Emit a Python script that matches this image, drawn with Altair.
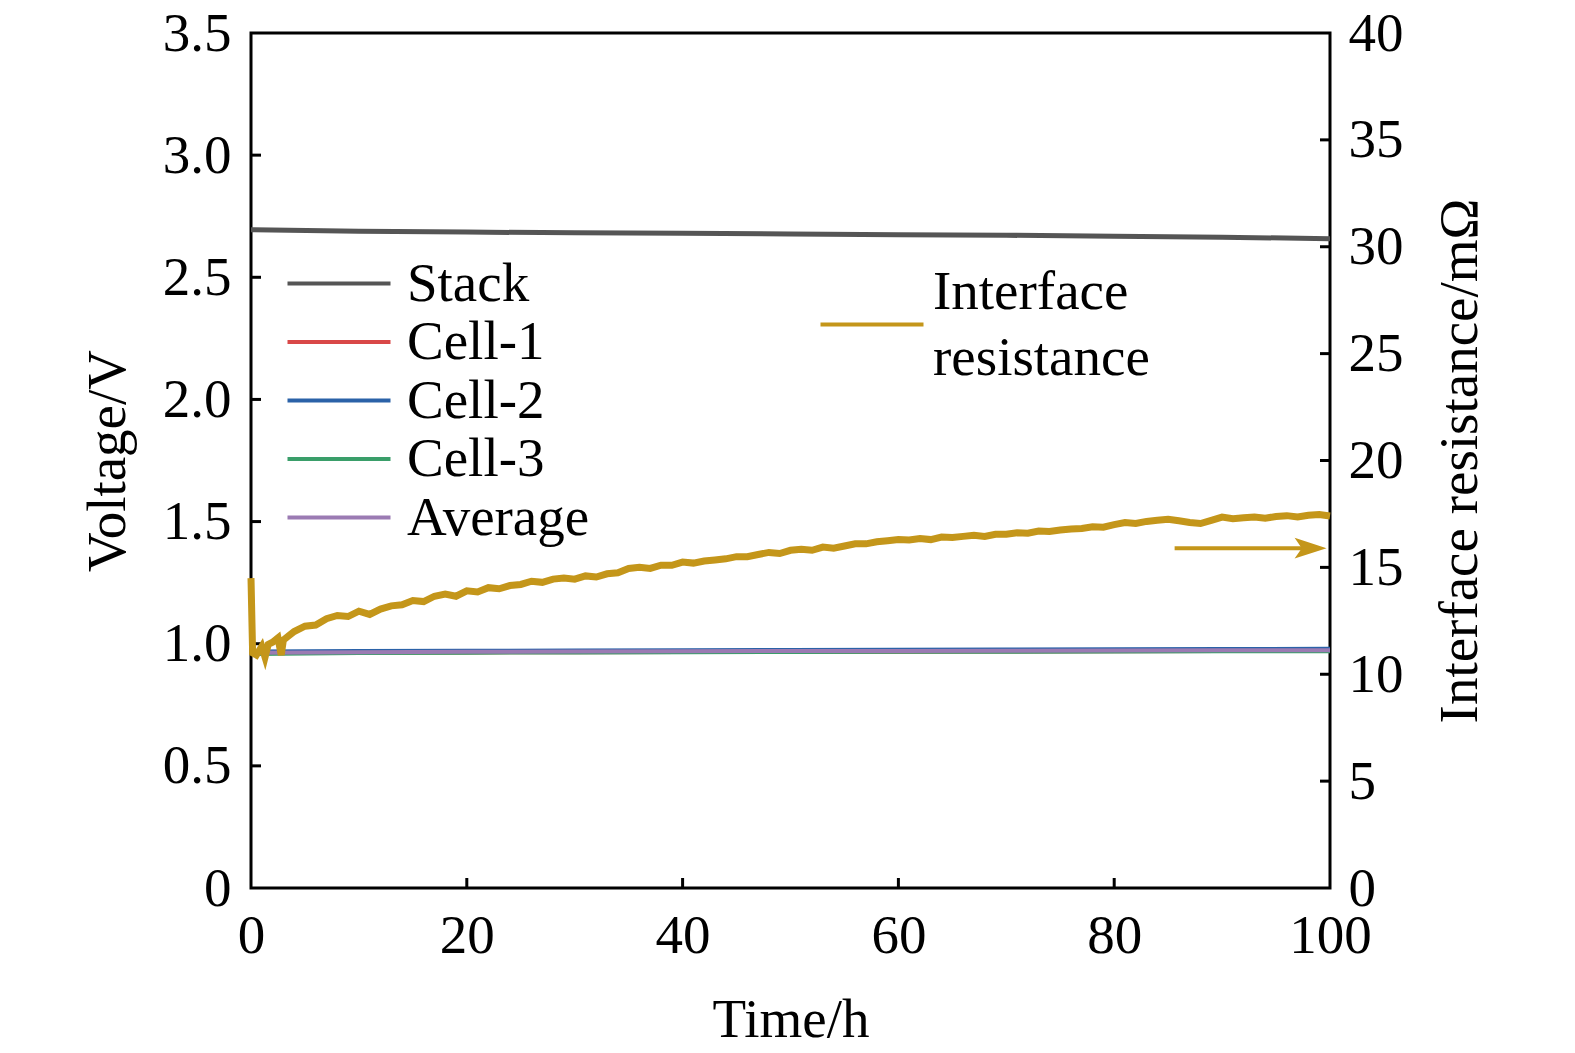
import altair as alt
import pandas as pd

# ---------------- data ----------------
time_v = [0, 10, 20, 30, 40, 50, 60, 70, 80, 90, 100]
stack = [2.695, 2.688, 2.685, 2.682, 2.680, 2.677, 2.674, 2.672, 2.668, 2.664, 2.658]
cell1 = [0.963, 0.965, 0.966, 0.967, 0.968, 0.969, 0.969, 0.970, 0.971, 0.972, 0.972]
cell2 = [0.967, 0.969, 0.970, 0.971, 0.972, 0.973, 0.974, 0.975, 0.976, 0.977, 0.978]
cell3 = [0.958, 0.962, 0.964, 0.965, 0.966, 0.967, 0.968, 0.968, 0.969, 0.970, 0.970]
average = [0.963, 0.965, 0.967, 0.968, 0.969, 0.970, 0.970, 0.971, 0.972, 0.973, 0.973]

series_names = ["Stack", "Cell-1", "Cell-2", "Cell-3", "Average"]
series_colors = ["#555555", "#d94848", "#2b62a8", "#3a9e6a", "#9b7bb3"]
series_widths = [5, 4, 4, 4, 6]

res_time = [0, 0.15, 0.5, 1, 1.3, 1.6, 2, 2.5, 2.8, 3, 3.5, 4, 5, 6, 7, 8, 9, 10,
            11, 12, 13, 14, 15, 16, 17, 18, 19, 20, 21, 22, 23, 24, 25, 26, 27, 28,
            29, 30, 31, 32, 33, 34, 35, 36, 37, 38, 39, 40, 41, 42, 43, 44, 45, 46,
            47, 48, 49, 50, 51, 52, 53, 54, 55, 56, 57, 58, 59, 60, 61, 62, 63, 64,
            65, 66, 67, 68, 69, 70, 71, 72, 73, 74, 75, 76, 77, 78, 79, 80, 81, 82,
            83, 84, 85, 86, 87, 88, 89, 90, 91, 92, 93, 94, 95, 96, 97, 98, 99, 100]
res_val = [14.5, 11.0, 10.9, 11.3, 10.8, 11.4, 11.5, 11.7, 10.9, 11.6, 11.8, 12.0, 12.25, 12.3, 12.6, 12.75, 12.7, 12.95,
           12.8, 13.05, 13.2, 13.25, 13.45, 13.4, 13.65, 13.75, 13.65, 13.9, 13.85, 14.05, 14.0, 14.15, 14.2, 14.35, 14.3, 14.45,
           14.5, 14.45, 14.6, 14.55, 14.7, 14.75, 14.95, 15.0, 14.95, 15.1, 15.1, 15.25, 15.2, 15.3, 15.35, 15.4, 15.5, 15.5,
           15.6, 15.7, 15.65, 15.8, 15.85, 15.8, 15.95, 15.9, 16.0, 16.1, 16.1, 16.2, 16.25, 16.3, 16.28, 16.35, 16.3, 16.42,
           16.4, 16.45, 16.5, 16.45, 16.55, 16.55, 16.62, 16.6, 16.7, 16.68, 16.75, 16.8, 16.82, 16.9, 16.88, 17.0, 17.1, 17.05,
           17.15, 17.2, 17.25, 17.18, 17.1, 17.05, 17.2, 17.35, 17.28, 17.32, 17.36, 17.3, 17.38, 17.42, 17.36, 17.44, 17.47, 17.4]
res_label = "Interface resistance"
res_color = "#c4961a"

arrow_start = 85.6
arrow_end = 97.5
arrow_head = 98.2
arrow_level = 15.9

x_ticks = [0, 20, 40, 60, 80, 100]
v_ticks = [0, 0.5, 1.0, 1.5, 2.0, 2.5, 3.0, 3.5]
r_ticks = [0, 5, 10, 15, 20, 25, 30, 35, 40]

# ---------------- tables ----------------
rows = []
for name, vals in zip(series_names, [stack, cell1, cell2, cell3, average]):
    for t, v in zip(time_v, vals):
        rows.append({"time": t, "voltage": v, "series": name})
vdf = pd.DataFrame(rows)
rdf = pd.DataFrame({"time": res_time, "res": res_val, "rseries": [res_label] * len(res_time)})
xt_df = pd.DataFrame({"t": x_ticks[1:-1]})
vt_df = pd.DataFrame({"v": v_ticks[1:-1]})
rt_df = pd.DataFrame({"r": r_ticks[1:-1]})
arrow_df = pd.DataFrame({"x": [arrow_start], "x2": [arrow_end], "y": [arrow_level]})
head_df = pd.DataFrame({"x": [arrow_head], "y": [arrow_level]})

FONT = "Liberation Serif"
FS = 55
W, H = 1079, 855

xscale = alt.Scale(domain=[0, 100], nice=False, zero=False)
vscale = alt.Scale(domain=[0, 3.5], nice=False)
rscale = alt.Scale(domain=[0, 40], nice=False)

xaxis = alt.Axis(values=x_ticks, title="Time/h", ticks=False, domain=False, grid=False,
                 labelPadding=21, titlePadding=30, format="d", labelOverlap=False, labelFlush=False)
vaxis = alt.Axis(values=v_ticks, title="Voltage/V", ticks=False, domain=False, grid=False,
                 labelPadding=20, titlePadding=26, labelOverlap=False, labelFlush=False,
                 labelExpr="datum.value == 0 ? '0' : format(datum.value, '.1f')")
raxis = alt.Axis(values=r_ticks, title="Interface resistance/mΩ", orient="right", ticks=False,
                 domain=False, grid=False, labelPadding=18, titlePadding=30, titleAngle=270,
                 titleBaseline="top", labelOverlap=False, labelFlush=False)

legend1 = alt.Legend(title=None, orient="none", legendX=9, legendY=223, symbolType="M0,0H10.3",
                     symbolSize=400, symbolStrokeWidth=4, labelOffset=92, rowPadding=2.5,
                     padding=0, labelLimit=0)
legend2 = alt.Legend(title=None, orient="none", legendX=542, legendY=231, symbolType="M0,3.3H10.3",
                     symbolSize=400, symbolStrokeWidth=4, labelOffset=85, padding=0,
                     labelLimit=0, labelExpr="split(datum.label, ' ')")

vlines = alt.Chart(vdf).mark_line().encode(
    x=alt.X("time:Q", scale=xscale, axis=xaxis),
    y=alt.Y("voltage:Q", scale=vscale, axis=vaxis),
    color=alt.Color("series:N", scale=alt.Scale(domain=series_names, range=series_colors),
                    legend=legend1, sort=series_names),
    strokeWidth=alt.StrokeWidth("series:N", scale=alt.Scale(domain=series_names, range=series_widths),
                                legend=None),
)

xticks_m = alt.Chart(xt_df).mark_tick(orient="vertical", size=10, thickness=3, color="black",
                                      yOffset=-5, opacity=1).encode(
    x=alt.X("t:Q", scale=xscale, axis=xaxis),
    y=alt.YDatum(0, scale=vscale, axis=None),
)
vticks_m = alt.Chart(vt_df).mark_tick(orient="horizontal", size=10, thickness=3, color="black",
                                      xOffset=5, opacity=1).encode(
    x=alt.XDatum(0, scale=xscale, axis=xaxis),
    y=alt.Y("v:Q", scale=vscale, axis=None),
)

rline = alt.Chart(rdf).mark_line(strokeWidth=7).encode(
    x=alt.X("time:Q", scale=xscale, axis=xaxis),
    y=alt.Y("res:Q", scale=rscale, axis=raxis),
    color=alt.Color("rseries:N", scale=alt.Scale(domain=[res_label], range=[res_color]), legend=legend2),
)
rticks_m = alt.Chart(rt_df).mark_tick(orient="horizontal", size=10, thickness=3, color="black",
                                      xOffset=-5, opacity=1).encode(
    x=alt.XDatum(100, scale=xscale, axis=xaxis),
    y=alt.Y("r:Q", scale=rscale, axis=None),
)
arrow_m = alt.Chart(arrow_df).mark_rule(strokeWidth=4, color=res_color).encode(
    x=alt.X("x:Q", scale=xscale, axis=xaxis),
    x2="x2:Q",
    y=alt.Y("y:Q", scale=rscale, axis=None),
)
head_m = alt.Chart(head_df).mark_point(shape="M-1,-0.65L1,0L-1,0.65L-0.55,0Z", size=1024,
                                       filled=True, color=res_color, opacity=1).encode(
    x=alt.X("x:Q", scale=xscale, axis=xaxis),
    y=alt.Y("y:Q", scale=rscale, axis=None),
)

chart = alt.layer(vlines, xticks_m, vticks_m, rline, rticks_m, arrow_m, head_m).resolve_scale(
    y="independent", color="independent"
).properties(
    width=W, height=H,
    autosize=alt.AutoSizeParams(type="none"),
    padding={"left": 251, "top": 33, "right": 245, "bottom": 165},
    background="white",
).configure(
    style={"guide-label": {"lineHeight": 66}}
).configure_view(
    stroke="black", strokeWidth=3
).configure_axis(
    labelFont=FONT, labelFontSize=FS, labelColor="black",
    titleFont=FONT, titleFontSize=FS, titleColor="black", titleFontWeight="normal",
).configure_legend(
    labelFont=FONT, labelFontSize=FS, labelColor="black",
)

chart.save("out.html", embed_options={"renderer": "svg", "actions": False})
